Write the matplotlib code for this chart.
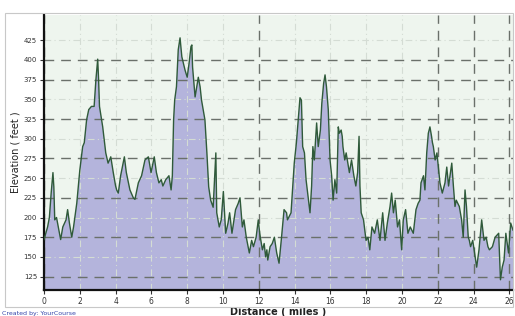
import matplotlib
matplotlib.use("Agg")
import matplotlib.pyplot as plt
from matplotlib.patches import Rectangle

# ---- data ----
distance_miles = [
    0.0, 0.1, 0.2, 0.3, 0.4, 0.5, 0.55, 0.6, 0.7, 0.8, 0.93, 1.05, 1.23, 1.32, 1.42, 1.55, 1.65, 1.83,
    2.0, 2.16, 2.25, 2.38, 2.5, 2.65, 2.8, 2.9, 3.0, 3.05, 3.1, 3.28, 3.38, 3.45, 3.58, 3.73, 3.87,
    4.0, 4.06, 4.15, 4.28, 4.49, 4.6, 4.8, 4.99, 5.08, 5.27, 5.45, 5.64, 5.83, 5.98, 6.16, 6.28,
    6.42, 6.55, 6.64, 6.8, 6.98, 7.1, 7.17, 7.24, 7.3, 7.4, 7.5, 7.6, 7.7, 7.88, 8.0, 8.1, 8.21,
    8.26, 8.3, 8.44, 8.62, 8.72, 8.8, 8.99, 9.1, 9.2, 9.31, 9.45, 9.6, 9.65, 9.79, 9.9, 10.02,
    10.15, 10.28, 10.37, 10.5, 10.7, 10.85, 10.95, 11.08, 11.17, 11.3, 11.47, 11.6, 11.7, 11.85,
    11.97, 12.05, 12.2, 12.3, 12.38, 12.45, 12.5, 12.63, 12.75, 12.87, 13.0, 13.13, 13.27, 13.41,
    13.55, 13.6, 13.8, 13.98, 14.1, 14.2, 14.3, 14.38, 14.45, 14.55, 14.64, 14.86, 14.95, 15.02,
    15.1, 15.23, 15.32, 15.44, 15.52, 15.62, 15.7, 15.78, 15.88, 15.98, 16.07, 16.15, 16.25, 16.35,
    16.44, 16.5, 16.6, 16.66, 16.7, 16.8, 16.88, 17.06, 17.18, 17.31, 17.42, 17.52, 17.6, 17.65,
    17.72, 17.85, 17.99, 18.1, 18.2, 18.32, 18.47, 18.62, 18.77, 18.92, 19.05, 19.18, 19.33, 19.42,
    19.52, 19.62, 19.75, 19.86, 19.98, 20.07, 20.2, 20.33, 20.46, 20.63, 20.78, 20.9, 21.0, 21.06,
    21.2, 21.28, 21.38, 21.47, 21.56, 21.65, 21.7, 21.75, 21.85, 21.95, 22.12, 22.25, 22.35, 22.4,
    22.5, 22.6, 22.78, 22.87, 22.96, 23.03, 23.2, 23.33, 23.42, 23.52, 23.6, 23.7, 23.76, 23.83,
    23.95, 24.17, 24.3, 24.45, 24.58, 24.7, 24.8, 24.88, 25.05, 25.2, 25.4, 25.5, 25.6, 25.7, 25.8,
    25.95, 26.07, 26.2,
]
elevation_feet = [
    172, 180, 188, 200, 231, 257, 239, 197, 200, 188, 172, 188, 197, 210, 193, 175, 188, 218,
    260, 290, 295, 324, 337, 341, 341, 375, 401, 375, 341, 315, 295, 282, 269, 277, 257,
    240, 235, 231, 253, 277, 257, 235, 225, 223, 244, 253, 273, 277, 257, 277, 257,
    244, 248, 240, 248, 253, 235, 253, 324, 349, 366, 413, 428, 404, 387, 378, 395, 417,
    419, 391, 353, 378, 366, 349, 324, 282, 239, 222, 213, 282, 206, 188, 197, 233,
    180, 193, 206, 180, 210, 218, 225, 188, 197, 175, 155, 171, 163, 175,
    197, 180, 159, 167, 150, 159, 146, 163, 167, 175, 155, 142, 175, 210,
    206, 197, 206, 269, 295, 324, 352, 349, 290, 282, 248, 206, 240, 290,
    273, 320, 290, 311, 345, 370, 381, 366, 337, 273, 253, 222, 248, 231,
    315, 307, 311, 303, 290, 273, 282, 257, 273, 253, 240, 257, 303, 240,
    206, 197, 171, 175, 159, 188, 180, 197, 171, 206, 171, 193, 214, 231,
    206, 222, 188, 197, 159, 197, 210, 180, 188, 180, 210, 218, 222, 244,
    253, 235, 282, 307, 315, 303, 295, 290, 273, 282, 244, 231, 240, 244,
    264, 240, 269, 240, 214, 222, 214, 197, 175, 235, 214, 175, 171, 163,
    171, 137, 159, 197, 171, 175, 163, 159, 163, 175, 180, 121, 137, 146, 180,
    155, 193, 184,
]
x_ticks = [0, 2, 4, 6, 8, 10, 12, 14, 16, 18, 20, 22, 24, 26]
y_ticks = [125, 150, 175, 200, 225, 250, 275, 300, 325, 350, 375, 400, 425]
dark_y_grid = [125, 175, 225, 275, 325, 375, 400]
light_y_grid = [150, 200, 250, 300, 350, 425]
dark_x_grid = [0, 12, 22, 24, 26]
light_x_grid = [2, 4, 6, 8, 10, 14, 16, 18, 20]

# ---- figure ----
fig = plt.figure(figsize=(5.15, 3.16), dpi=100)
fig.patch.set_facecolor("white")
W, H = 515, 316
frame = Rectangle((5 / W, 1 - 307 / H), (513 - 5) / W, (307 - 13) / H,
                  transform=fig.transFigure, fill=False, edgecolor="#c8c8c8", linewidth=0.8)
fig.patches.append(frame)

ax = fig.add_axes([44 / W, 1 - 290 / H, (513 - 44) / W, (290 - 15) / H])
ax.set_facecolor("#eef5ee")
ax.set_xlim(0, 26.2)
ax.set_ylim(108, 457)

ax.fill_between(distance_miles, elevation_feet, 0, color="#b4b4dc", linewidth=0, zorder=1)
ax.plot(distance_miles, elevation_feet, color="#2f5a3a", linewidth=1.0, zorder=3)

for v in light_y_grid:
    ax.axhline(v, color="#d4dcd4", linewidth=0.8, linestyle=(0, (6, 3, 1, 3)), zorder=2)
for v in light_x_grid:
    ax.axvline(v, color="#d4dcd4", linewidth=0.8, linestyle=(0, (6, 3, 1, 3)), zorder=2)
for v in dark_y_grid:
    ax.axhline(v, color="#6a706a", linewidth=1.0, linestyle=(0, (7, 5)), zorder=2)
for v in dark_x_grid:
    ax.axvline(v, color="#6a706a", linewidth=1.0, linestyle=(0, (7, 5)), zorder=2)

ax.set_xticks(x_ticks)
ax.set_xticklabels([str(t) for t in x_ticks], fontsize=5.5, color="#333333")
ax.set_yticks(y_ticks)
ax.set_yticklabels([str(t) for t in y_ticks], fontsize=5, color="#333333")
ax.tick_params(axis="both", length=3, width=0.8, pad=2, colors="#333333")

for s in ["top", "right"]:
    ax.spines[s].set_visible(False)
for s in ["left", "bottom"]:
    ax.spines[s].set_linewidth(1.6)
    ax.spines[s].set_color("#111111")

ax.set_xlabel("Distance ( miles )", fontsize=7, fontweight="bold", color="#222222", labelpad=1)
ax.set_ylabel("Elevation ( feet )", fontsize=7, color="#222222", labelpad=2)

fig.text(2 / W, 1 - 313 / H, "Created by: YourCourse", fontsize=4.5, color="#3344aa",
         va="center", ha="left")

fig.savefig("out.png", dpi=100)
